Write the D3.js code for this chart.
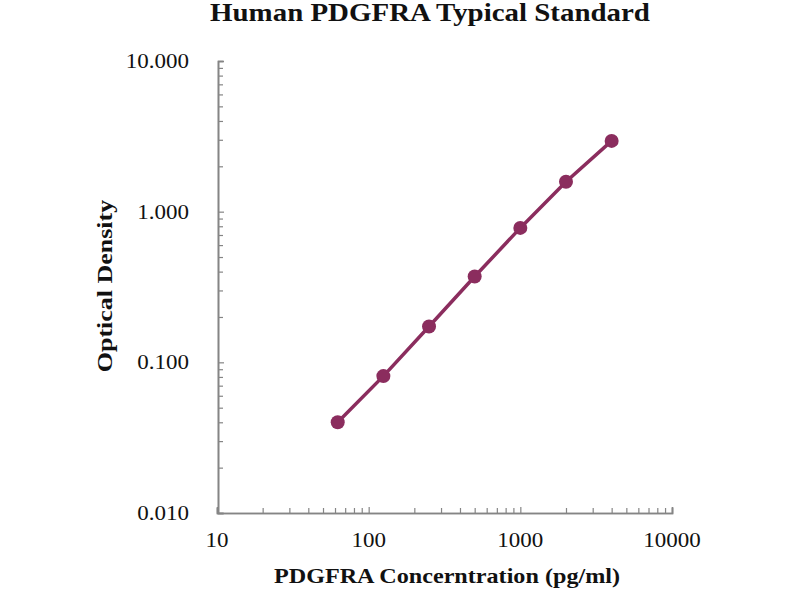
<!DOCTYPE html>
<html><head><meta charset="utf-8">
<script src="https://cdn.jsdelivr.net/npm/d3@7"></script>
<style>body{margin:0;background:#fff}</style>
</head><body>
<svg id="c" width="800" height="600"></svg>
<script>
const concentrations = [62.5, 125, 250, 500, 1000, 2000, 4000];
const opticalDensity = [0.040, 0.081, 0.173, 0.371, 0.78, 1.58, 2.95];
const xTickValues = [10, 100, 1000, 10000];
const xTickLabels = ["10", "100", "1000", "10000"];
const yTickValues = [0.01, 0.1, 1, 10];
const yTickLabels = ["0.010", "0.100", "1.000", "10.000"];
const titleText = "Human PDGFRA Typical Standard";
const xLabelText = "PDGFRA Concerntration (pg/ml)";
const yLabelText = "Optical Density";

const svg = d3.select("#c");
const serif = "'Liberation Serif','Times New Roman',serif";
const stretch = 1.15;
const color = "#8b2d5e";
const axisColor = "#858585";

const x = d3.scaleLog().domain([10, 10000]).range([217, 672]);
const y = d3.scaleLog().domain([0.01, 10]).range([513, 61]);

function stretchText(sel, f) {
  f = f || stretch;
  sel.each(function(){
    const w = this.getComputedTextLength();
    this.setAttribute("textLength", w * f);
    this.setAttribute("lengthAdjust", "spacingAndGlyphs");
  });
}

// minor ticks
const xMinor = [];
for (let d = 10; d < 10000; d *= 10) for (let k = 2; k <= 9; k++) xMinor.push(d * k);
const yMinor = [];
for (let d = 0.01; d < 10; d *= 10) for (let k = 2; k <= 9; k++) yMinor.push(+(d * k).toPrecision(3));

const gx = svg.append("g").attr("transform", "translate(0,513)");
gx.call(d3.axisBottom(x).tickValues(xMinor).tickSize(-5).tickFormat(""));
gx.append("g").call(d3.axisBottom(x).tickValues(xTickValues).tickSize(-6).tickFormat(""));
const gy = svg.append("g").attr("transform", "translate(218,0)");
gy.call(d3.axisLeft(y).tickValues(yMinor).tickSize(-5).tickFormat(""));
gy.append("g").call(d3.axisLeft(y).tickValues(yTickValues).tickSize(-6).tickFormat(""));
svg.selectAll(".domain").attr("stroke", axisColor).attr("stroke-width", 1.6);
svg.selectAll(".tick line").attr("stroke", axisColor).attr("stroke-width", 1.2);

// tick labels
svg.append("g").selectAll("text").data(xTickValues).join("text")
  .attr("x", d => x(d)).attr("y", 547)
  .attr("text-anchor", "middle")
  .attr("font-family", serif).attr("font-size", 20).attr("fill", "#111")
  .text((d, i) => xTickLabels[i]).call(stretchText);

svg.append("g").selectAll("text").data(yTickValues).join("text")
  .attr("x", 189).attr("y", d => y(d) + 7)
  .attr("text-anchor", "end")
  .attr("font-family", serif).attr("font-size", 20).attr("fill", "#111")
  .text((d, i) => yTickLabels[i]).call(stretchText);

// title and axis labels
svg.append("text").attr("x", 430).attr("y", 21).attr("text-anchor", "middle")
  .attr("font-family", serif).attr("font-weight", "bold").attr("font-size", 24.5).attr("fill", "#111")
  .text(titleText).call(stretchText, 1.18);
svg.append("text").attr("x", 447).attr("y", 583).attr("text-anchor", "middle")
  .attr("font-family", serif).attr("font-weight", "bold").attr("font-size", 21).attr("fill", "#111")
  .text(xLabelText).call(stretchText);
svg.append("text").attr("transform", "translate(112,286) rotate(-90)").attr("text-anchor", "middle")
  .attr("font-family", serif).attr("font-weight", "bold").attr("font-size", 22).attr("fill", "#111")
  .text(yLabelText).call(stretchText, 1.18);

// data
const pts = concentrations.map((c, i) => [c, opticalDensity[i]]);
svg.append("path").datum(pts)
  .attr("d", d3.line().x(d => x(d[0])).y(d => y(d[1])))
  .attr("fill", "none").attr("stroke", color).attr("stroke-width", 3.5);
svg.append("g").selectAll("circle").data(pts).join("circle")
  .attr("cx", d => x(d[0])).attr("cy", d => y(d[1])).attr("r", 7)
  .attr("fill", color);
</script>
</body></html>
